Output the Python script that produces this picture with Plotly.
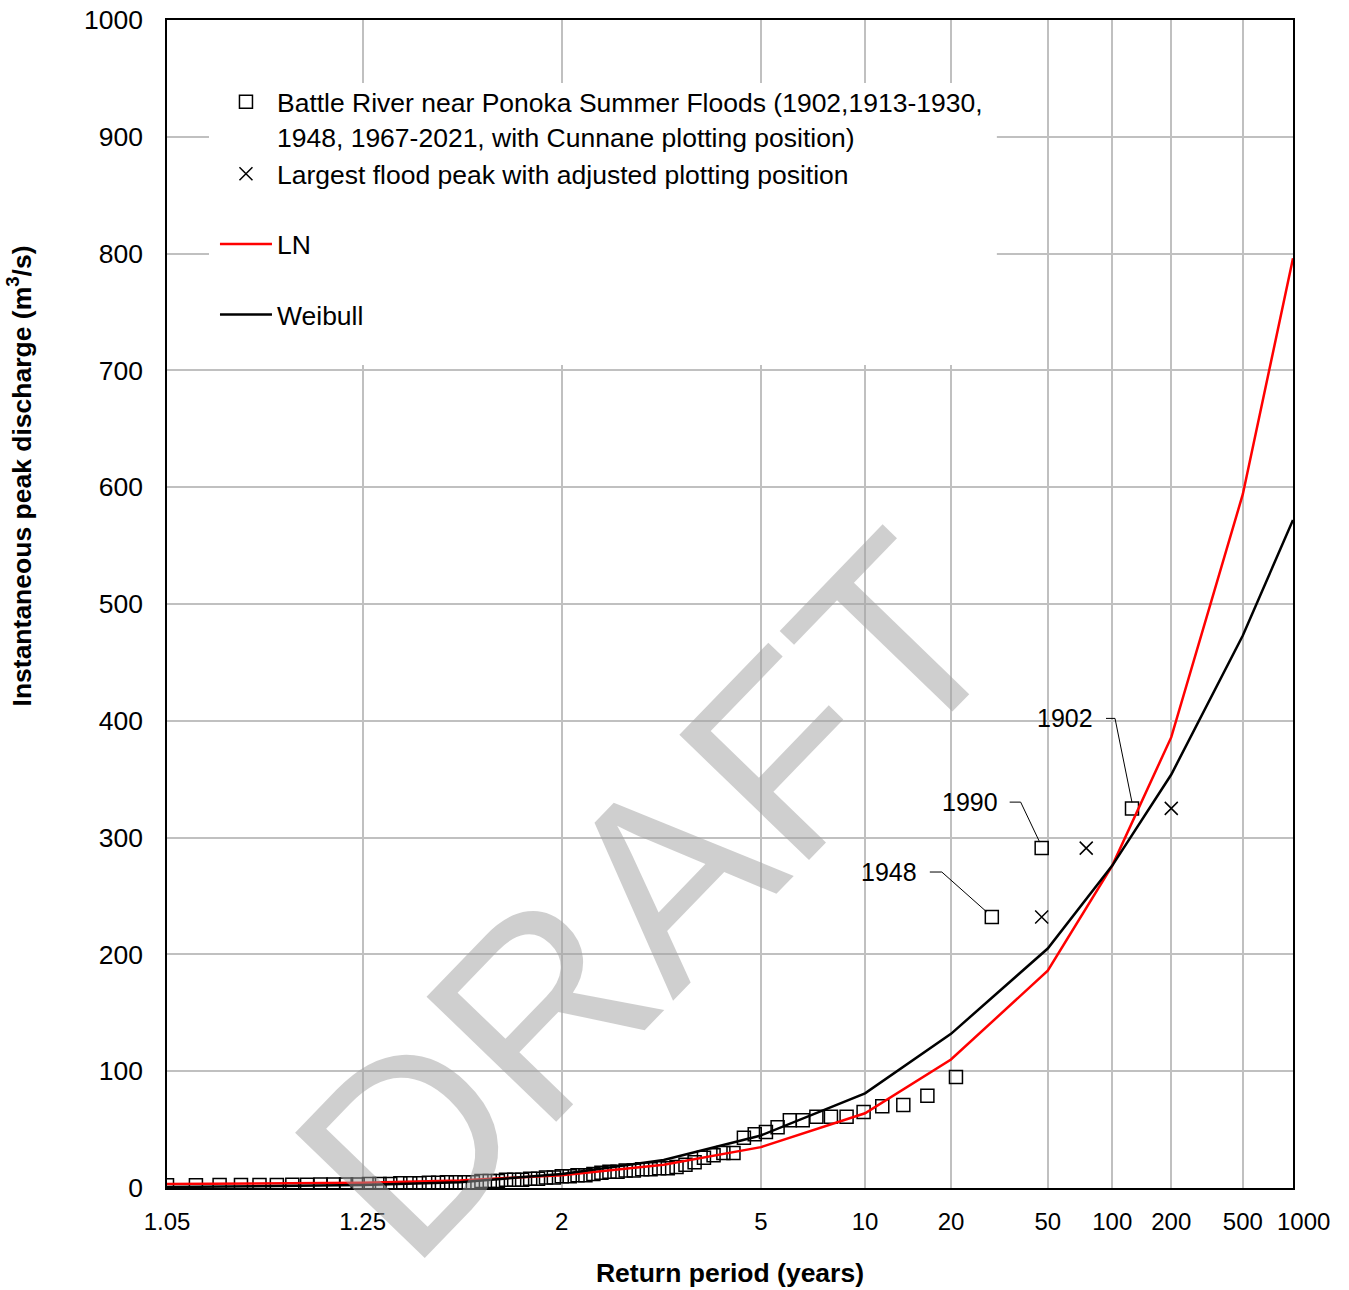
import plotly.graph_objects as go
from statistics import NormalDist

# ---------------- data ----------------
# Observed summer flood peaks (Cunnane plotting position return periods, years)
obs_T = [125.33, 47.0, 28.92, 20.89, 16.35, 13.43, 11.39, 9.895, 8.744, 7.833,
         7.094, 6.483, 5.968, 5.529, 5.151, 4.821, 4.530, 4.273, 4.043, 3.837,
         3.650, 3.481, 3.327, 3.186, 3.057, 2.938, 2.827, 2.725, 2.629, 2.541,
         2.458, 2.380, 2.307, 2.238, 2.173, 2.112, 2.055, 2.000, 1.948, 1.899,
         1.852, 1.808, 1.765, 1.725, 1.686, 1.649, 1.614, 1.580, 1.547, 1.516,
         1.486, 1.457, 1.430, 1.403, 1.377, 1.353, 1.329, 1.306, 1.283, 1.262,
         1.241, 1.221, 1.201, 1.182, 1.164, 1.146, 1.129, 1.112, 1.096, 1.080,
         1.065, 1.050]
obs_Q = [325, 291, 232, 95, 79, 71, 70, 65, 61, 61,
         61, 58, 58, 52, 48, 46, 43, 30, 30, 28,
         26, 22, 20, 18, 17, 17, 16, 16, 15, 15,
         14, 14, 13, 12, 11, 11, 10, 10, 9, 9,
         8, 8, 7, 7, 7, 6, 6, 6, 5, 5,
         5, 5, 4.5, 4.5, 4, 4, 4, 3.5, 3.5, 3.5,
         3, 3, 3, 3, 2.8, 2.8, 2.6, 2.6, 2.5, 2.5,
         2.4, 2.3]

# Largest flood peaks with adjusted plotting position
adj_T = [200, 75, 47]
adj_Q = [325, 291, 232]

# Fitted frequency curves
curve_T = [1.05, 1.25, 1.5, 2, 3, 5, 10, 20, 50, 100, 200, 500, 1000]
ln_Q = [3.4, 4.5, 6.5, 11, 20, 35, 64, 110, 186, 276, 386, 594, 796]
wb_Q = [0.8, 2.5, 5, 12, 24, 45, 81, 132, 205, 276, 354, 473, 572]

# Axis ticks (the last label, 1000, is drawn as an offset annotation like the reference)
tick_T = [1.05, 1.25, 2, 5, 10, 20, 50, 100, 200, 500, 1000]
tick_text = ["1.05", "1.25", "2", "5", "10", "20", "50", "100", "200", "500", ""]
last_tick_T = 1000
last_tick_text = "1000"
y_ticks = [0, 100, 200, 300, 400, 500, 600, 700, 800, 900, 1000]

# Labelled years
label_year = ["1902", "1990", "1948"]
label_T = [125.33, 47.0, 28.92]
label_Q = [325, 291, 232]

# ---------------- helpers ----------------
ND = NormalDist()


def tz(T):
    """Normal probability scale position for return period T."""
    return ND.inv_cdf(1.0 - 1.0 / T)


FONT = "Liberation Sans, Arial, sans-serif"
FS = 26.5      # legend / titles / y ticks
XTFS = 24      # x tick labels
AFS = 25       # year labels
X_MIN, X_MAX = tz(1.05), tz(1000)
Y_MIN, Y_MAX = 0, 1000

fig = go.Figure()

fig.add_trace(go.Scatter(
    x=[tz(t) for t in obs_T], y=obs_Q, mode="markers",
    name="Battle River near Ponoka Summer Floods (1902,1913-1930,<br>1948, 1967-2021, with Cunnane plotting position)",
    marker=dict(symbol="square-open", size=13, color="black", line=dict(width=1.5, color="black")),
    legendgroup="a", legendrank=1,
))
fig.add_trace(go.Scatter(
    x=[tz(t) for t in adj_T], y=adj_Q, mode="markers",
    name="Largest flood peak with adjusted plotting position",
    marker=dict(symbol="x-thin-open", size=13, color="black", line=dict(width=1.5, color="black")),
    legendgroup="a", legendrank=2,
))
fig.add_trace(go.Scatter(
    x=[tz(t) for t in curve_T], y=ln_Q, mode="lines", name="LN",
    line=dict(color="#ff0000", width=2.5), legendgroup="b", legendrank=3,
))
fig.add_trace(go.Scatter(
    x=[tz(t) for t in curve_T], y=wb_Q, mode="lines", name="Weibull",
    line=dict(color="black", width=2.5), legendgroup="c", legendrank=4,
))

# label annotations with elbow leader lines
label_style = {
    "1902": dict(xs=-37, ys=90, path="M -26,90 L -17,90 L 0,6"),
    "1990": dict(xs=-42, ys=46, path="M -32,46 L -21,46 L -2,6"),
    "1948": dict(xs=-73, ys=45, path="M -62,45 L -50,45 L -5,5"),
}
shapes = []
annotations = []
for yr, T, Q in zip(label_year, label_T, label_Q):
    st = label_style[yr]
    annotations.append(dict(
        x=tz(T), y=Q, xref="x", yref="y", text=yr, showarrow=False,
        xanchor="right", yanchor="middle", xshift=st["xs"], yshift=st["ys"],
        font=dict(family=FONT, size=AFS, color="black"),
    ))
    shapes.append(dict(
        type="path", xref="x", yref="y", xsizemode="pixel", ysizemode="pixel",
        xanchor=tz(T), yanchor=Q, path=st["path"],
        line=dict(color="black", width=1),
    ))


def fx(f):
    return X_MIN + f * (X_MAX - X_MIN)


def fy(f):
    return Y_MIN + f * (Y_MAX - Y_MIN)


# white box behind legend (covers gridlines, below traces)
shapes.append(dict(
    type="rect", xref="x", yref="y", x0=fx(0.0373), x1=fx(0.737), y0=fy(0.7046), y1=fy(0.946),
    fillcolor="white", line=dict(width=0), layer="between",
))

# last x tick label, nudged right as in the reference
annotations.append(dict(
    x=tz(last_tick_T), xref="x", y=0, yref="paper", text=last_tick_text, showarrow=False,
    xanchor="center", yanchor="middle", xshift=10, yshift=-33,
    font=dict(family=FONT, size=XTFS, color="black"),
))

# y-axis title (placed as in the reference, not centred on the axis)
annotations.append(dict(
    text="<b>Instantaneous peak discharge (m<sup>3</sup>/s)</b>",
    xref="paper", yref="paper", x=-0.131, y=0.6096, showarrow=False,
    xanchor="center", yanchor="middle", textangle=-90,
    font=dict(family=FONT, size=FS, color="black"),
))

# DRAFT watermark
annotations.append(dict(
    text="DRAFT", xref="paper", yref="paper", x=0.427, y=0.25, showarrow=False,
    xanchor="center", yanchor="middle", textangle=-46,
    font=dict(family=FONT, size=262, color="rgba(160,160,160,0.5)"),
))

fig.update_layout(
    width=1349, height=1290,
    margin=dict(l=167, r=56, t=20, b=102, autoexpand=False),
    plot_bgcolor="white", paper_bgcolor="white",
    font=dict(family=FONT, size=FS, color="black"),
    showlegend=True,
    legend=dict(
        x=0.0426, y=0.9503, xanchor="left", yanchor="top",
        bgcolor="rgba(0,0,0,0)", borderwidth=0, itemwidth=52,
        font=dict(family=FONT, size=FS, color="black"),
        traceorder="grouped", tracegroupgap=33, valign="top",
    ),
    shapes=shapes,
    annotations=annotations,
    xaxis=dict(
        range=[X_MIN, X_MAX], automargin=False,
        tickmode="array", tickvals=[tz(t) for t in tick_T], ticktext=tick_text,
        tickangle=0,
        showgrid=True, gridcolor="#c0c0c0", gridwidth=2,
        showline=True, linecolor="black", linewidth=1.5, mirror=True,
        zeroline=False, ticks="", ticklabelstandoff=11,
        tickfont=dict(family=FONT, size=XTFS, color="black"),
        title=dict(text="Return period (years)", standoff=30,
                   font=dict(family=FONT, size=FS, color="black", weight="bold")),
    ),
    yaxis=dict(
        range=[Y_MIN, Y_MAX], automargin=False, tickmode="array", tickvals=y_ticks,
        showgrid=True, gridcolor="#c0c0c0", gridwidth=2,
        showline=True, linecolor="black", linewidth=1.5, mirror=True,
        zeroline=False, ticks="", ticklabelstandoff=17,
        tickfont=dict(family=FONT, size=FS, color="black"),
    ),
)

fig.write_html("out.html", config={"displayModeBar": False},
               post_script="document.body.style.margin='0px';")
